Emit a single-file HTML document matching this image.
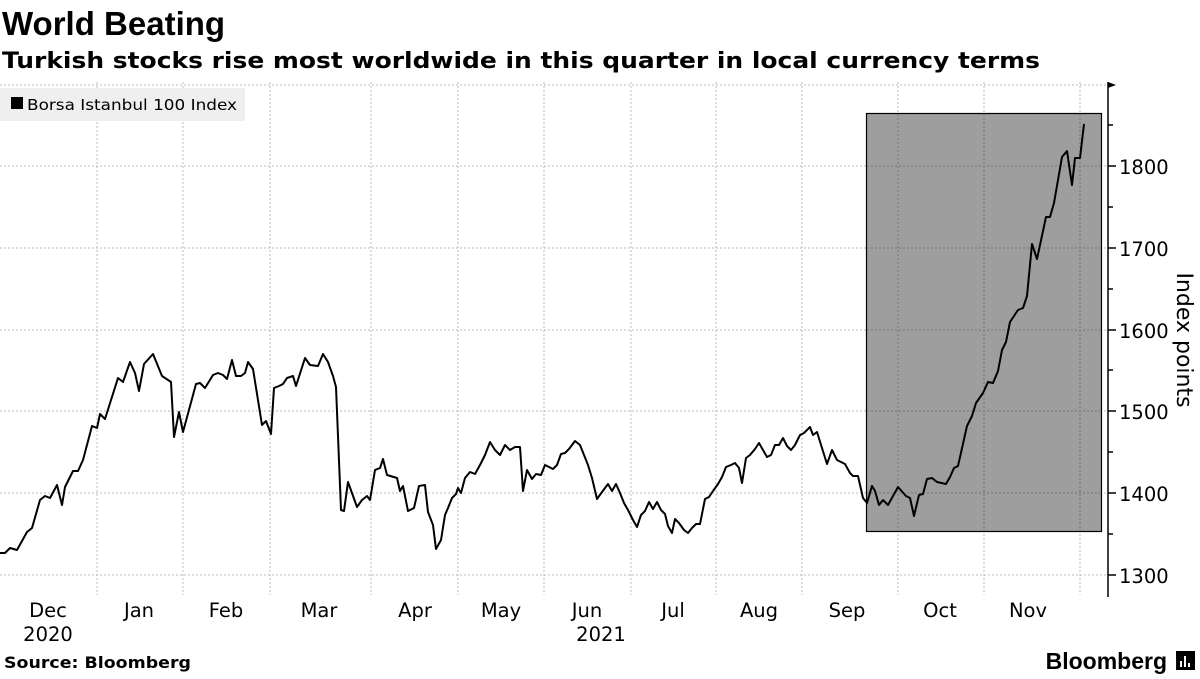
<!DOCTYPE html>
<html><head><meta charset="utf-8"><style>
body{margin:0;background:#fff;width:1200px;height:675px;overflow:hidden;font-family:"DejaVu Sans",sans-serif}
</style></head><body>
<svg width="1200" height="675" xmlns="http://www.w3.org/2000/svg" font-family="DejaVu Sans, sans-serif">
<text x="2" y="35" font-family="Liberation Sans, sans-serif" font-weight="bold" font-size="33">World Beating</text>
<text x="2" y="68" font-weight="bold" font-size="22.5" textLength="1038" lengthAdjust="spacingAndGlyphs">Turkish stocks rise most worldwide in this quarter in local currency terms</text>
<g stroke="#bbb" stroke-dasharray="2,2" stroke-width="1">
<line x1="0" x2="1106" y1="85" y2="85"/><line x1="0" x2="1106" y1="166" y2="166"/><line x1="0" x2="1106" y1="248" y2="248"/><line x1="0" x2="1106" y1="330" y2="330"/><line x1="0" x2="1106" y1="411" y2="411"/><line x1="0" x2="1106" y1="493" y2="493"/><line x1="0" x2="1106" y1="575" y2="575"/>
<line x1="97" x2="97" y1="82" y2="595"/><line x1="183" x2="183" y1="82" y2="595"/><line x1="270" x2="270" y1="82" y2="595"/><line x1="371" x2="371" y1="82" y2="595"/><line x1="458" x2="458" y1="82" y2="595"/><line x1="544" x2="544" y1="82" y2="595"/><line x1="631" x2="631" y1="82" y2="595"/><line x1="716" x2="716" y1="82" y2="595"/><line x1="802" x2="802" y1="82" y2="595"/><line x1="898" x2="898" y1="82" y2="595"/><line x1="984" x2="984" y1="82" y2="595"/><line x1="1080" x2="1080" y1="82" y2="595"/>
</g>
<rect x="866.5" y="113.5" width="235" height="418" fill="#9e9e9e" stroke="#000" stroke-width="1.2"/>
<g stroke="#777" stroke-dasharray="2,2" stroke-width="1">
<line x1="867" x2="1101" y1="166" y2="166"/><line x1="867" x2="1101" y1="248" y2="248"/><line x1="867" x2="1101" y1="330" y2="330"/><line x1="867" x2="1101" y1="411" y2="411"/><line x1="867" x2="1101" y1="493" y2="493"/>
<line x1="898" x2="898" y1="114" y2="531"/><line x1="984" x2="984" y1="114" y2="531"/><line x1="1080" x2="1080" y1="114" y2="531"/>
</g>
<rect x="0" y="88" width="245" height="33" fill="#efefef"/>
<rect x="11" y="97" width="12" height="12" fill="#000"/>
<text x="27" y="110" font-size="15" textLength="210" lengthAdjust="spacingAndGlyphs">Borsa Istanbul 100 Index</text>
<polyline fill="none" stroke="#000" stroke-width="2" stroke-linejoin="round" points="0,553 5,553 10,548 17,550 27,532 32,528 40,500 45,496 50,498 57,485 62,505 65,487 73,471 78,471 83,460 92,426 97,428 100,414 105,419 118,378 123,382 130,362 135,373 139,391 144,364 153,354 162,376 171,382 174,437 179,412 183,432 196,384 200,383 205,388 213,375 218,373 223,375 227,379 232,360 236,376 241,376 245,373 248,362 253,369 262,425 266,421 271,434 274,388 279,386 283,384 287,378 293,376 296,386 305,358 310,365 318,366 323,354 328,362 333,376 336,387 341,510 344,511 348,482 357,507 362,500 367,496 370,500 375,470 380,468 383,459 387,475 397,478 400,491 403,486 408,511 414,508 419,486 425,485 428,512 433,525 436,549 441,540 445,515 448,508 452,498 456,494 458,488 461,493 465,478 470,472 475,474 480,465 485,455 490,442 495,450 500,455 505,445 510,450 515,447 520,447 523,491 527,470 532,479 536,474 541,475 545,465 549,467 553,469 557,465 561,454 565,453 569,449 575,441 580,445 584,455 588,465 592,478 597,499 602,492 608,484 612,491 616,484 620,493 624,503 628,510 633,520 637,527 641,515 645,511 649,502 653,509 657,502 661,510 665,514 668,526 672,533 675,519 679,523 684,530 688,533 692,528 696,524 700,524 705,499 709,497 713,491 718,484 722,477 726,467 731,465 735,463 739,468 742,483 746,458 750,455 755,449 759,443 763,450 767,457 771,455 775,445 779,445 783,438 787,446 791,450 795,445 800,435 804,433 810,427 813,435 817,432 827,464 832,450 837,460 845,464 850,473 853,476 858,476 863,498 867,503 872,486 875,491 879,505 883,500 888,505 898,487 906,496 910,498 914,516 919,495 923,494 927,479 932,478 937,482 946,484 950,477 954,468 958,466 967,426 972,416 976,403 983,393 988,382 993,383 998,371 1002,350 1006,342 1010,322 1018,310 1023,308 1027,296 1032,244 1037,259 1046,217 1050,217 1054,203 1062,157 1067,151 1072,185 1075,158 1080,158 1084,124"/>
<g stroke="#000" stroke-width="1.5">
<line x1="1108" x2="1108" y1="82" y2="597"/>
<line x1="1108" x2="1116" y1="166" y2="166"/><line x1="1108" x2="1116" y1="248" y2="248"/><line x1="1108" x2="1116" y1="330" y2="330"/><line x1="1108" x2="1116" y1="411" y2="411"/><line x1="1108" x2="1116" y1="493" y2="493"/><line x1="1108" x2="1116" y1="575" y2="575"/>
<line x1="1108" x2="1113" y1="125" y2="125"/><line x1="1108" x2="1113" y1="207" y2="207"/><line x1="1108" x2="1113" y1="289" y2="289"/><line x1="1108" x2="1113" y1="370" y2="370"/><line x1="1108" x2="1113" y1="452" y2="452"/><line x1="1108" x2="1113" y1="534" y2="534"/>
</g>
<polygon points="1108,82 1116,85 1108,88" fill="#000"/>
<g font-size="19.5" fill="#000">
<text x="1119" y="174">1800</text><text x="1119" y="256">1700</text><text x="1119" y="338">1600</text><text x="1119" y="419">1500</text><text x="1119" y="501">1400</text><text x="1119" y="583">1300</text>
</g>
<text transform="translate(1177,340) rotate(90)" text-anchor="middle" font-size="22">Index points</text>
<g font-size="19.5" text-anchor="middle">
<text x="48" y="617">Dec</text><text x="48" y="641">2020</text><text x="139" y="617">Jan</text><text x="226" y="617">Feb</text><text x="319" y="617">Mar</text><text x="415" y="617">Apr</text><text x="501" y="617">May</text><text x="587" y="617">Jun</text><text x="601" y="641">2021</text><text x="673" y="617">Jul</text><text x="759" y="617">Aug</text><text x="847" y="617">Sep</text><text x="940" y="617">Oct</text><text x="1028" y="617">Nov</text>
</g>
<text x="4" y="668" font-weight="bold" font-size="16" textLength="187" lengthAdjust="spacingAndGlyphs">Source: Bloomberg</text>
<text x="1167" y="669" text-anchor="end" font-family="Liberation Sans, sans-serif" font-weight="bold" font-size="23">Bloomberg</text>
<rect x="1176" y="651" width="19" height="19" fill="#000"/>
<g stroke="#fff" stroke-width="2"><line x1="1181" y1="667" x2="1181" y2="661"/><line x1="1185" y1="667" x2="1185" y2="656"/><line x1="1189" y1="667" x2="1189" y2="663"/></g>
</svg>
</body></html>
